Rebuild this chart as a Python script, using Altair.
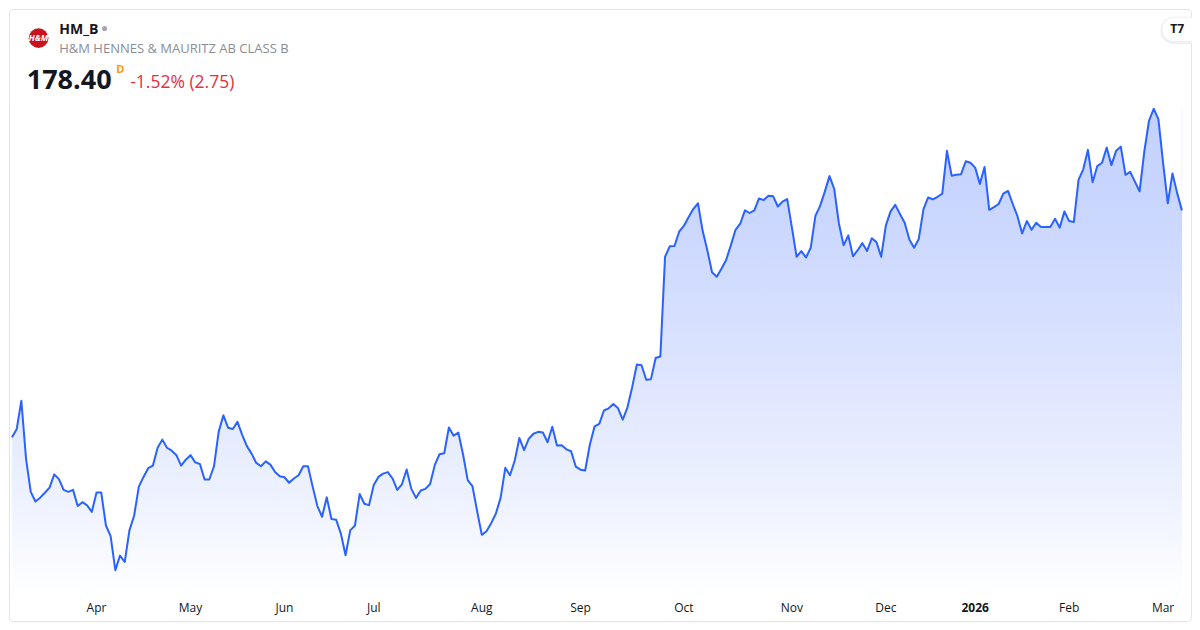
import altair as alt
import pandas as pd

# Daily closes (SEK), one per trading day, Mar 2025 -> Mar 2026
prices = [
    142.18, 143.46, 148.02, 138.76, 133.49, 131.94, 132.56, 133.34, 134.16, 136.28,
    135.51, 133.80, 133.49, 133.80, 131.22, 131.84, 131.32, 130.29, 133.39, 133.39,
    128.12, 126.41, 120.99, 123.31, 122.29, 127.34, 129.67, 134.32, 135.87, 137.26,
    137.68, 140.52, 141.82, 140.52, 140.05, 139.34, 137.68, 138.61, 139.34, 138.19,
    137.94, 135.46, 135.46, 137.57, 143.10, 145.69, 143.72, 143.52, 144.65, 142.59,
    140.78, 139.59, 138.10, 137.57, 138.35, 137.83, 136.64, 135.97, 135.82, 134.94,
    135.62, 136.13, 137.57, 137.57, 134.32, 131.22, 129.51, 132.61, 129.15, 129.05,
    126.83, 123.37, 127.34, 128.12, 133.14, 131.59, 131.37, 134.58, 135.87, 136.39,
    136.64, 135.62, 133.80, 134.69, 137.06, 133.96, 132.52, 133.70, 133.96, 134.73,
    137.79, 139.49, 139.65, 143.77, 142.44, 142.95, 139.49, 135.35, 134.42, 130.44,
    126.63, 127.19, 128.49, 130.04, 132.52, 137.32, 136.13, 138.45, 142.07, 140.16,
    141.97, 142.75, 143.06, 142.95, 141.40, 143.88, 140.89, 140.93, 140.27, 139.97,
    137.52, 137.03, 136.90, 141.04, 143.93, 144.34, 146.47, 146.82, 147.49, 146.82,
    145.01, 146.98, 150.19, 153.80, 153.69, 151.37, 151.47, 154.84, 155.09, 171.00,
    172.66, 172.71, 174.99, 175.92, 177.31, 178.60, 179.53, 175.14, 172.04, 168.52,
    167.80, 169.10, 170.49, 172.82, 175.30, 176.27, 178.40, 177.98, 178.40, 180.30,
    180.04, 180.72, 180.66, 179.02, 179.79, 180.20, 175.65, 171.00, 171.89, 170.88,
    172.43, 177.51, 179.11, 181.39, 183.87, 181.85, 176.31, 172.82, 174.41, 171.07,
    172.04, 173.17, 171.93, 173.95, 173.33, 171.00, 176.01, 178.24, 179.27, 177.82,
    176.43, 173.75, 172.45, 173.84, 178.60, 180.46, 180.15, 180.57, 181.08, 187.90,
    183.92, 184.07, 184.18, 186.24, 185.99, 185.22, 182.63, 185.31, 178.49, 178.91,
    179.42, 181.08, 181.50, 179.42, 177.47, 174.72, 176.69, 175.30, 176.43, 175.76,
    175.76, 175.76, 177.05, 175.65, 178.24, 176.69, 176.54, 183.25, 184.95, 188.05,
    182.89, 185.47, 185.99, 188.41, 185.62, 187.90, 188.57, 184.07, 184.54, 182.99,
    181.44, 187.79, 192.70, 194.61, 192.97, 185.99, 179.53, 184.29, 181.15, 178.40,
]
day_index = list(range(len(prices)))

month_labels = ["Apr", "May", "Jun", "Jul", "Aug", "Sep", "Oct", "Nov", "Dec", "2026", "Feb", "Mar"]
month_index = [18, 38, 58, 77, 100, 121, 143, 166, 186, 205, 225, 245]

W, H = 1182, 612


def px(rx):
    return rx * W / 1200


def py(ry):
    return ry * H / 630


FONT = "Open Sans"
Y_TOP = 210.53
xs = alt.Scale(domain=[-0.629, 250.94], nice=False, zero=False)
ys = alt.Scale(domain=[112.88, Y_TOP], nice=False, zero=False)

df = pd.DataFrame({"i": day_index, "p": prices})
base = alt.Chart(df)
X = alt.X("i:Q", scale=xs, axis=None)
Y = alt.Y("p:Q", scale=ys, axis=None)

one = alt.Data(values=[{"a": 1}])

# gradient band under the curve (fades to white at the time axis)
grad = alt.Chart(one).mark_rect(
    fill=alt.Gradient(
        gradient="linear",
        stops=[
            alt.GradientStop(color="#c2d1fe", offset=0),
            alt.GradientStop(color="#c9d6fe", offset=0.2),
            alt.GradientStop(color="#d4defe", offset=0.4),
            alt.GradientStop(color="#e1e8fe", offset=0.6),
            alt.GradientStop(color="#eef2ff", offset=0.8),
            alt.GradientStop(color="#ffffff", offset=1),
        ],
        x1=0, x2=0, y1=0, y2=1,
    ),
    opacity=1,
).encode(x=alt.value(px(3)), x2=alt.value(px(1191)), y=alt.value(py(100)), y2=alt.value(py(604)))

# white mask above the line
mask = base.mark_area(color="#ffffff", opacity=1).encode(x=X, y=Y, y2=alt.datum(Y_TOP - 0.25))

line = base.mark_line(color="#2962ff", strokeWidth=2, strokeJoin="round").encode(x=X, y=Y)

mdf = pd.DataFrame({"m": month_labels, "i": month_index})
MX = alt.X("i:Q", scale=xs, axis=None)
months = alt.Chart(mdf).transform_filter("datum.m != '2026'").mark_text(
    font=FONT, fontSize=12, color="#131722", baseline="alphabetic", align="center"
).encode(x=MX, y=alt.value(py(621)), text="m:N")
year = alt.Chart(mdf).transform_filter("datum.m == '2026'").mark_text(
    font=FONT, fontSize=12, fontWeight="bold", color="#131722", baseline="alphabetic", align="center"
).encode(x=MX, y=alt.value(py(621)), text="m:N")


def label(t, x, y, **kw):
    return alt.Chart(alt.Data(values=[{"t": t}])).mark_text(
        baseline="alphabetic", font=FONT, **kw
    ).encode(x=alt.value(px(x)), y=alt.value(py(y)), text="t:N")


def dot(x, y, size, color):
    return alt.Chart(one).mark_circle(
        size=size, color=color, opacity=1
    ).encode(x=alt.value(px(x)), y=alt.value(py(y)))


logo = dot(30, 30, 390, "#c8131f")
logo_txt = label("H&M", 30, 33, align="center", fontSize=8.5, fontStyle="italic", fontWeight="bold", color="#ffffff")
ticker = label("HM_B", 51, 26, align="left", fontSize=14, fontWeight="bold", color="#131722")
live_dot = dot(97, 20, 26, "#a3a6af")
name = label("H&M HENNES & MAURITZ AB CLASS B", 51, 45, align="left", fontSize=13, color="#8a8d96")
price = label("178.40", 18, 82, align="left", fontSize=27, fontWeight="bold", color="#131722")
dflag = label("D", 109, 66, align="left", fontSize=11, fontWeight="bold", color="#ff9800")
change = label("-1.52% (2.75)", 123, 81, align="left", fontSize=17.5, color="#e5303f")

tv_shadow = alt.Chart(one).mark_rect(fill="#eef0f3", cornerRadius=13).encode(
    x=alt.value(px(1169)), x2=alt.value(px(1218)), y=alt.value(py(8)), y2=alt.value(py(36)))
tv_box = alt.Chart(one).mark_rect(fill="#ffffff", cornerRadius=12).encode(
    x=alt.value(px(1171)), x2=alt.value(px(1215)), y=alt.value(py(9)), y2=alt.value(py(33)))
tv_txt = label("T7", 1186, 25, align="center", fontSize=12, fontWeight="bold", color="#131722")

chart = alt.layer(
    grad, mask, line, months, year,
    logo, logo_txt, ticker, live_dot, name, price, dflag, change,
    tv_shadow, tv_box, tv_txt,
).properties(
    width=W, height=H, padding=1, autosize=alt.AutoSizeParams(type="none"),
    background="#ffffff",
).configure_view(stroke="#e0e3eb", strokeWidth=1, cornerRadius=4)

chart.save("out.html", embed_options={"renderer": "svg", "actions": False})
